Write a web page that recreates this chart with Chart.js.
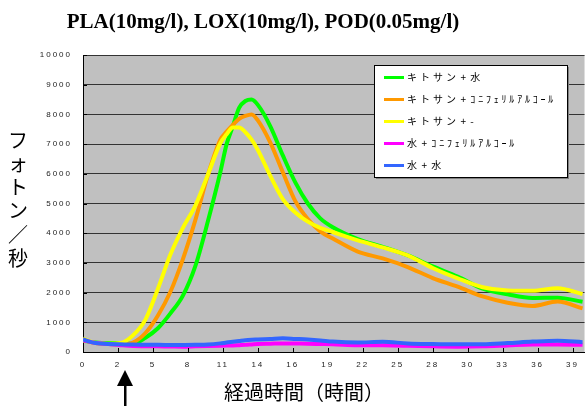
<!DOCTYPE html>
<html>
<head>
<meta charset="utf-8">
<script src="https://cdn.jsdelivr.net/npm/chart.js@4.4.1/dist/chart.umd.min.js"></script>
<style>
  html, body { margin: 0; padding: 0; background: #ffffff; }
  #chart { display: block; }
</style>
</head>
<body>
<canvas id="chart" width="585" height="406"></canvas>
<script>
// Sampling times (hours) shared by every series
const hours = [0, 1, 2, 3, 4, 5, 6, 7, 8, 9, 10, 11, 11.5, 12, 12.5, 13, 13.5, 14, 15, 16, 17, 18, 19, 20, 22, 24, 26, 28, 30, 32, 34, 36, 38, 40];

// Photon counts
const chitosanWater = [380, 320, 300, 300, 280, 480, 800, 1300, 1900, 2900, 4400, 6060, 7000, 7600, 8220, 8450, 8500, 8320, 7600, 6620, 5710, 5000, 4500, 4200, 3800, 3540, 3250, 2880, 2540, 2130, 1940, 1820, 1830, 1690];
const chitosanConiferyl = [400, 300, 270, 260, 320, 640, 1230, 2030, 3130, 4450, 5960, 7150, 7420, 7650, 7850, 7950, 8000, 7800, 7050, 6050, 5080, 4480, 4060, 3820, 3380, 3150, 2860, 2490, 2200, 1870, 1660, 1550, 1700, 1470];
const chitosanNone = [450, 300, 280, 300, 560, 1090, 2130, 3280, 4180, 4930, 5970, 7030, 7330, 7560, 7560, 7400, 7150, 6800, 5930, 5150, 4700, 4390, 4180, 4040, 3760, 3520, 3250, 2830, 2480, 2180, 2070, 2060, 2150, 1950];
const waterConiferyl = [400, 300, 270, 230, 200, 195, 190, 185, 180, 190, 200, 210, 215, 220, 230, 240, 255, 270, 280, 290, 285, 280, 270, 260, 230, 225, 210, 190, 180, 190, 220, 250, 250, 240];
const waterWater = [420, 300, 270, 260, 250, 245, 240, 238, 235, 240, 250, 290, 320, 345, 370, 395, 410, 420, 440, 460, 440, 420, 390, 350, 320, 345, 290, 270, 260, 260, 300, 350, 380, 330];

const seriesLabels = ["キトサン + 水", "キトサン + ｺﾆﾌｪﾘﾙｱﾙｺｰﾙ", "キトサン + -", "水 + ｺﾆﾌｪﾘﾙｱﾙｺｰﾙ", "水 + 水"];
const seriesColors = ["#00ff00", "#ff9900", "#ffff00", "#ff00ff", "#3366ff"];

// x axis: a tick every 2.8 h, labelled with the whole hour
const xTickStep = 2.8;
const xTickLabels = ["0", "2", "5", "8", "11", "14", "16", "19", "22", "25", "28", "30", "33", "36", "39"];
const yTicks = [0, 1000, 2000, 3000, 4000, 5000, 6000, 7000, 8000, 9000, 10000];

const chartTitle = "PLA(10mg/l), LOX(10mg/l), POD(0.05mg/l)";
const xTitle = "経過時間（時間）";
const yTitle = "フォトン／秒";
const arrowHour = 3.4;

const allSeries = [chitosanWater, chitosanConiferyl, chitosanNone, waterConiferyl, waterWater];

// draw text one character at a time with extra spacing (legend look)
function drawSpaced( ctx, text, x, y ) {
    let cx = x;
    for ( const ch of text ) {
        const code = ch.codePointAt( 0 );
        if ( ch === " " ) {
            cx += 1.5;
            continue;
        }
        ctx.fillText( ch, cx, y );
        const half = code < 0x100 || ( code >= 0xff61 && code <= 0xff9f );
        cx += ctx.measureText( ch ).width + ( half ? 2.8 : 3 );
    }
}

const decorPlugin = {
    id: "decor",
    beforeDraw( chart ) {
        const { ctx, chartArea } = chart;
        ctx.save();
        ctx.fillStyle = "#c0c0c0";
        ctx.fillRect( chartArea.left, chartArea.top, chartArea.right - chartArea.left, chartArea.bottom - chartArea.top );
        ctx.restore();
        ctx.letterSpacing = "2px";
    },
    beforeDatasetsDraw( chart ) {
        chart.ctx.letterSpacing = "0px";
    },
    afterDraw( chart ) {
        const { ctx, chartArea, scales } = chart;
        ctx.save();
        ctx.letterSpacing = "0px";

        // inward tick marks
        ctx.strokeStyle = "#000";
        ctx.lineWidth = 1;
        ctx.beginPath();
        scales.x.ticks.forEach( t => {
            const px = Math.round( scales.x.getPixelForValue( t.value ) ) + 0.5;
            ctx.moveTo( px, chartArea.bottom );
            ctx.lineTo( px, chartArea.bottom - 4 );
        } );
        yTicks.forEach( v => {
            const py = Math.round( scales.y.getPixelForValue( v ) ) + 0.5;
            ctx.moveTo( chartArea.left, py );
            ctx.lineTo( chartArea.left + 4, py );
        } );
        ctx.stroke();

        // legend box
        const lx = 374, ly = 65, lw = 193, lh = 112;
        ctx.fillStyle = "#808080";
        ctx.fillRect( lx + 2, ly + 2, lw, lh );
        ctx.fillStyle = "#ffffff";
        ctx.fillRect( lx, ly, lw, lh );
        ctx.strokeStyle = "#000";
        ctx.strokeRect( lx + 0.5, ly + 0.5, lw, lh );
        ctx.font = "10px 'Noto Sans CJK JP'";
        ctx.textBaseline = "middle";
        ctx.textAlign = "left";
        chart.data.datasets.forEach( ( ds, i ) => {
            const ry = 77.5 + i * 22;
            ctx.strokeStyle = ds.borderColor;
            ctx.lineWidth = 3;
            ctx.beginPath();
            ctx.moveTo( 384, ry );
            ctx.lineTo( 404, ry );
            ctx.stroke();
            ctx.fillStyle = "#000";
            drawSpaced( ctx, ds.label, 407, ry );
        } );

        // chart title
        ctx.fillStyle = "#000";
        ctx.textAlign = "center";
        ctx.textBaseline = "alphabetic";
        ctx.font = "bold 21px 'Liberation Serif'";
        ctx.fillText( chartTitle, 263, 28 );

        // axis titles
        ctx.font = "20px 'Noto Sans CJK JP'";
        ctx.textBaseline = "middle";
        ctx.fillText( xTitle, 304, 392 );
        [...yTitle].forEach( ( ch, i ) => {
            ctx.fillText( ch, 18, 140 + i * 23.6 );
        } );

        // arrow under the x axis
        const ax = Math.round( scales.x.getPixelForValue( arrowHour ) );
        ctx.beginPath();
        ctx.moveTo( ax, 370 );
        ctx.lineTo( ax - 8, 386 );
        ctx.lineTo( ax + 8, 386 );
        ctx.closePath();
        ctx.fill();
        ctx.fillRect( ax - 1, 385, 2.5, 21 );
        ctx.restore();
    }
};

const ctx = document.getElementById( "chart" ).getContext( "2d" );
new Chart( ctx, {
    type: "line",
    data: {
        datasets: allSeries.map( ( values, i ) => ( {
            label: seriesLabels[i],
            data: values.map( ( v, k ) => ( { x: hours[k], y: v } ) ),
            borderColor: seriesColors[i],
            backgroundColor: seriesColors[i],
            borderWidth: 4,
            pointRadius: 0,
            cubicInterpolationMode: "monotone",
            order: allSeries.length - i
        } ) )
    },
    options: {
        responsive: false,
        animation: false,
        devicePixelRatio: 1,
        layout: { padding: { top: 55, left: 0, right: 0, bottom: 0 } },
        plugins: {
            legend: { display: false },
            tooltip: { enabled: false },
            title: { display: false }
        },
        scales: {
            x: {
                type: "linear",
                min: 0,
                max: 40.16,
                afterBuildTicks: axis => {
                    axis.ticks = xTickLabels.map( ( _, i ) => ( { value: i * xTickStep } ) );
                },
                afterFit: axis => { axis.height = 54; },
                grid: { display: false, drawTicks: false },
                border: { color: "#000", width: 1 },
                ticks: {
                    autoSkip: false,
                    maxRotation: 0,
                    padding: 8,
                    color: "#222",
                    font: { family: "'Liberation Sans'", size: 8 },
                    callback: ( v, i ) => xTickLabels[i]
                }
            },
            y: {
                min: 0,
                max: 10000,
                afterBuildTicks: axis => {
                    axis.ticks = yTicks.map( v => ( { value: v } ) );
                },
                afterFit: axis => { axis.width = 83; },
                grid: { color: "#333", lineWidth: 1, drawTicks: false },
                border: { color: "#000", width: 1 },
                ticks: {
                    padding: 11,
                    color: "#222",
                    font: { family: "'Liberation Sans'", size: 8 },
                    callback: v => String( v )
                }
            }
        }
    },
    plugins: [decorPlugin]
} );
</script>
</body>
</html>
